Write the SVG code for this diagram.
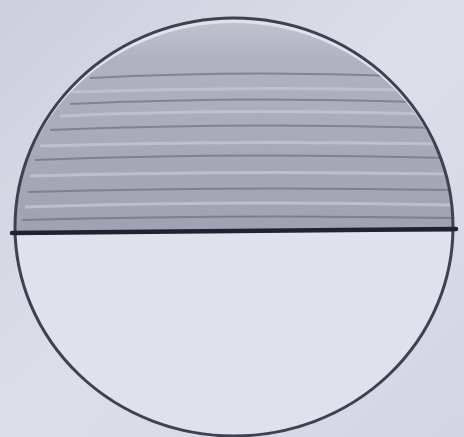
<svg xmlns="http://www.w3.org/2000/svg" width="464" height="437" viewBox="0 0 464 437">
<defs>
<linearGradient id="bg" x1="0" y1="0" x2="1" y2="1">
<stop offset="0" stop-color="#cdd0dc"/>
<stop offset="0.5" stop-color="#dcdfea"/>
<stop offset="1" stop-color="#d3d6e2"/>
</linearGradient>
<linearGradient id="shade" x1="0" y1="0" x2="0" y2="1">
<stop offset="0" stop-color="#c9cbd6"/>
<stop offset="0.25" stop-color="#b0b2c0"/>
<stop offset="1" stop-color="#9fa1b0"/>
</linearGradient>
<clipPath id="top"><path d="M14 232 A219 208 0 0 1 454 232 Z"/></clipPath>
<style>
.streak{stroke:#6e7080;stroke-width:2;fill:none;opacity:0.7}
.light{stroke:#c4c6d2;stroke-width:3;fill:none;opacity:0.8}
</style>
</defs>
<rect width="464" height="437" fill="url(#bg)"/>
<ellipse cx="234" cy="227" rx="219" ry="209" fill="#dfe2ec"/>
<g clip-path="url(#top)">
<rect x="0" y="0" width="464" height="240" fill="url(#shade)"/>
<path class="streak" d="M90 78 Q240 70 400 76"/>
<path class="light" d="M70 92 Q240 86 410 90"/>
<path class="streak" d="M70 104 Q240 96 420 102"/>
<path class="light" d="M60 116 Q230 108 430 114"/>
<path class="streak" d="M50 130 Q240 122 440 128"/>
<path class="light" d="M40 146 Q230 140 445 144"/>
<path class="streak" d="M35 160 Q230 152 448 158"/>
<path class="light" d="M30 176 Q230 170 450 174"/>
<path class="streak" d="M28 192 Q230 186 450 190"/>
<path class="light" d="M25 207 Q230 200 452 205"/>
<path class="streak" d="M22 220 Q230 214 452 218"/>
</g>
<ellipse cx="234" cy="227" rx="219" ry="209" fill="none" stroke="#3e4150" stroke-width="3"/>
<line x1="12" y1="233" x2="456" y2="229" stroke="#1f2230" stroke-width="4.5" stroke-linecap="round"/>
</svg>
